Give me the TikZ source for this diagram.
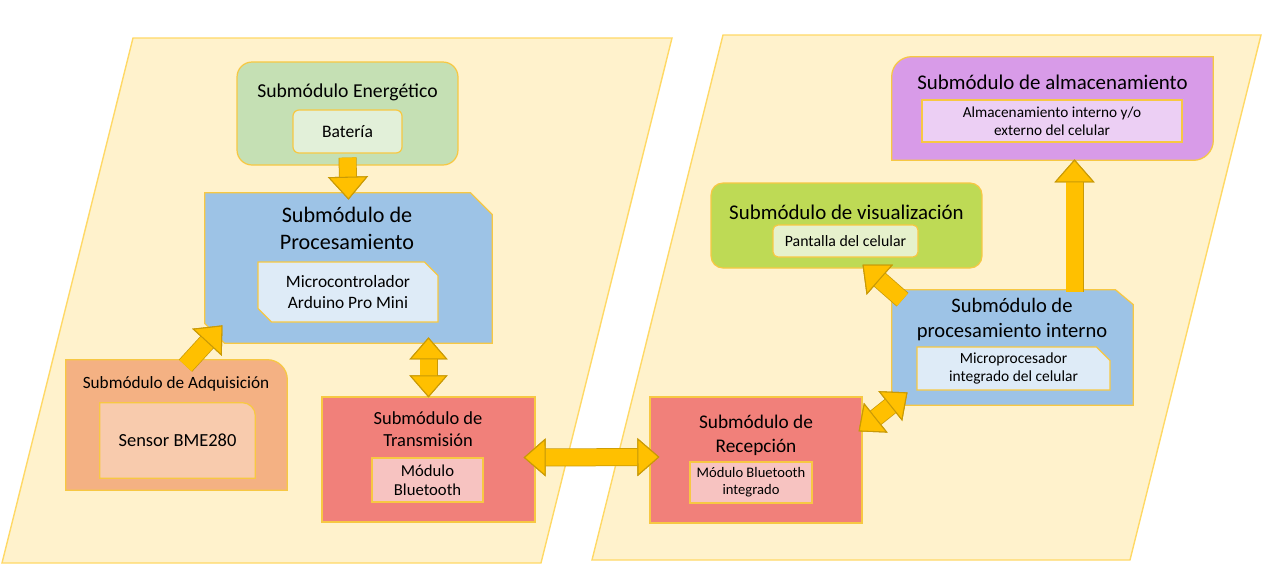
\documentclass[tikz,border=0pt]{standalone}
\usepackage{fontspec}
\setmainfont{Carlito}
\usetikzlibrary{shapes.misc,arrows.meta,positioning,backgrounds,calc}
\definecolor{paperfill}{HTML}{FFF2CC}
\definecolor{paperline}{HTML}{FFD966}
\definecolor{boxline}{HTML}{F7C843}
\definecolor{arrowfill}{HTML}{FFC000}
\definecolor{arrowline}{HTML}{C99A06}
\definecolor{engfill}{HTML}{C5E0B4}
\definecolor{batfill}{HTML}{E2F0D9}
\definecolor{prcfill}{HTML}{9DC3E6}
\definecolor{mcufill}{HTML}{DEEBF7}
\definecolor{adqfill}{HTML}{F4B183}
\definecolor{senfill}{HTML}{F8CBAD}
\definecolor{redfill}{HTML}{F1807A}
\definecolor{pinkfill}{HTML}{F7C3C1}
\definecolor{visfill}{HTML}{BEDA55}
\definecolor{panfill}{HTML}{E6F1CC}
\definecolor{almfill}{HTML}{D89BE8}
\definecolor{extfill}{HTML}{ECCFF4}

\begin{document}
\begin{tikzpicture}[x=0.02cm, y=-0.02cm,
    module/.style={draw=boxline, line width=0.7pt, inner sep=0pt},
    inbox/.style={draw=boxline, line width=0.7pt, inner sep=0pt, align=center, text=black},
    snip/.style={chamfered rectangle, chamfered rectangle corners={north east,south west}},
    frame/.style={draw=boxline, line width=0.7pt},
    ttl/.style={inner sep=0pt, align=center, text=black},
    blk/.style={draw=arrowfill, line width=0.33cm,
                -{Triangle[width=0.8cm, length=0.46cm, color=arrowline, fill=arrowfill, line width=0.6pt]},
                preaction={draw=arrowline, line width=0.36cm}},
    dblk/.style={draw=arrowfill, line width=0.33cm,
                {Triangle[width=0.76cm, length=0.44cm, color=arrowline, fill=arrowfill, line width=0.6pt]}-{Triangle[width=0.76cm, length=0.44cm, color=arrowline, fill=arrowfill, line width=0.6pt]},
                preaction={draw=arrowline, line width=0.36cm}}
]
\useasboundingbox (0,0) rectangle (1280,583);

% --- backdrop ---
\begin{scope}[on background layer]
  \filldraw[fill=paperfill, draw=paperline, line width=0.8pt]
    (133,38) -- (672,38) -- (541,563) -- (2,563) -- cycle;
  \filldraw[fill=paperfill, draw=paperline, line width=0.8pt]
    (723,35) -- (1261,35) -- (1130,560) -- (592,560) -- cycle;
\end{scope}

% --- sensor node ---
\node[module, fill=engfill, rounded corners=0.3cm, minimum width=4.42cm, minimum height=2.06cm] (eng) at (347.5,113.5) {};
\node[ttl, font=\fontsize{11.2}{13}\selectfont] (engt) at (347.5,92) {Submódulo Energético};
\node[inbox, fill=batfill, rounded corners=0.12cm, minimum width=2.18cm, minimum height=0.86cm,
      font=\fontsize{10}{12}\selectfont] (bat) at (347.5,131.5) {Batería};

\node[inner sep=0pt, minimum width=5.74cm, minimum height=3cm] (prc) at (348.5,268) {};
\node[ttl, font=\fontsize{12.6}{15.4}\selectfont] (prct) at (347,228.5) {Submódulo de\\Procesamiento};
\node[inbox, snip, chamfered rectangle xsep=0.16cm, fill=mcufill, minimum width=3.6cm, minimum height=1.2cm,
      font=\fontsize{9.9}{12}\selectfont] (mcu) at (348,292) {Microcontrolador\\Arduino Pro Mini};

\node[inner sep=0pt, minimum width=4.42cm, minimum height=2.6cm] (adq) at (176.5,425) {};
\node[ttl, font=\fontsize{9.8}{12}\selectfont] (adqt) at (176,384) {Submódulo de Adquisición};
\node[inner sep=0pt, minimum width=3.1cm, minimum height=1.5cm, text=black,
      font=\fontsize{10.5}{12}\selectfont] (sen) at (177.5,440.5) {Sensor BME280};

\node[module, fill=redfill, minimum width=4.26cm, minimum height=2.5cm] (trn) at (428.5,459.5) {};
\node[ttl, font=\fontsize{10.5}{12.5}\selectfont] (trnt) at (428,429) {Submódulo de\\Transmisión};
\node[inbox, fill=pinkfill, minimum width=2.22cm, minimum height=0.88cm,
      font=\fontsize{9.5}{10.8}\selectfont] (bt) at (427.5,480) {Módulo\\Bluetooth};

% --- phone side ---
\node[module, fill=redfill, minimum width=4.24cm, minimum height=2.52cm] (rec) at (756,460) {};
\node[ttl, font=\fontsize{11}{13.5}\selectfont] (rect) at (756,435) {Submódulo de\\Recepción};
\node[inbox, fill=pinkfill, minimum width=2.44cm, minimum height=0.82cm,
      font=\fontsize{8.3}{9.6}\selectfont] (btint) at (751,482.5) {Módulo Bluetooth\\integrado};

\node[inner sep=0pt, minimum width=4.82cm, minimum height=2.3cm] (pin) at (1012.5,347.5) {};
\node[ttl, font=\fontsize{11.7}{14.2}\selectfont] (pint) at (1012,319.5) {Submódulo de\\procesamiento interno};
\node[inbox, chamfered rectangle, chamfered rectangle corners=north east, chamfered rectangle xsep=0.16cm,
      fill=mcufill, minimum width=3.86cm, minimum height=0.86cm,
      font=\fontsize{8.8}{10.4}\selectfont] (mpu) at (1013.5,368.5) {Microprocesador\\integrado del celular};

\node[module, fill=visfill, rounded corners=0.24cm, minimum width=5.42cm, minimum height=1.7cm] (vis) at (846.5,225.5) {};
\node[ttl, font=\fontsize{11.9}{14}\selectfont] (vist) at (846.5,212) {Submódulo de visualización};
\node[inbox, fill=panfill, rounded corners=0.1cm, minimum width=2.9cm, minimum height=0.64cm,
      font=\fontsize{9}{11}\selectfont] (pan) at (845.5,241) {Pantalla del celular};

\node[inner sep=0pt, minimum width=6.42cm, minimum height=2.06cm] (alm) at (1052.5,108.5) {};
\node[ttl, font=\fontsize{11.9}{14}\selectfont] (almt) at (1052.5,82) {Submódulo de almacenamiento};
\node[inbox, fill=extfill, minimum width=5.2cm, minimum height=0.84cm,
      font=\fontsize{8.7}{10.4}\selectfont] (ext) at (1052,121) {Almacenamiento interno y/o\\externo del celular};

% --- frames with odd corners ---
\begin{scope}[on background layer]
  \filldraw[frame, fill=prcfill]
    (prc.north west) -- ([xshift=-0.44cm]prc.north east) -- ([yshift=-0.44cm]prc.north east)
    -- (prc.south east) -- ([xshift=0.4cm]prc.south west) -- ([yshift=0.4cm]prc.south west) -- cycle;
  \filldraw[frame, fill=prcfill]
    (pin.north west) -- ([xshift=-0.36cm]pin.north east) -- ([yshift=-0.3cm]pin.north east)
    -- (pin.south east) -- ([xshift=0.26cm]pin.south west) -- ([yshift=0.26cm]pin.south west) -- cycle;
  \filldraw[frame, fill=adqfill]
    (adq.south west) -- (adq.north west) -- ([xshift=-0.4cm]adq.north east)
    arc[start angle=90, end angle=0, radius=0.4cm] -- (adq.south east) -- cycle;
  \filldraw[frame, fill=senfill]
    (sen.south west) -- (sen.north west) -- ([xshift=-0.26cm]sen.north east)
    arc[start angle=90, end angle=0, radius=0.26cm] -- (sen.south east) -- cycle;
  \filldraw[frame, fill=almfill]
    (alm.south west) -- ([yshift=-0.4cm]alm.north west)
    arc[start angle=180, end angle=90, radius=0.4cm] -- (alm.north east)
    -- ([yshift=0.4cm]alm.south east)
    arc[start angle=0, end angle=-90, radius=0.4cm] -- cycle;
\end{scope}

% --- arrows ---
\draw[blk] ($(eng.south)+(0,-8)$) -- ($(prc.north)+(0,7)$);
\draw[blk] ($(adq.north)+(9,6)$) -- ($(prc.south)+(-126,-18)$);
\draw[dblk] ($(trn.north)+(0,1)$) -- ($(trn.north |- prc.south)+(0,-6)$);
\draw[dblk] ($(trn.east)+(-12,-2)$) -- ($(rec.west)+(10,-3)$);
\draw[dblk] ($(rec.north east)+(-4,35)$) -- ($(pin.south)+(-105,-13)$);
\draw[blk] ($(pin.north)+(-110,10)$) -- ($(vis.south)+(16,-4)$);
\draw[blk] ($(pin.north)+(62,2)$) -- ($(alm.south)+(22,-1)$);

\end{tikzpicture}
\end{document}
